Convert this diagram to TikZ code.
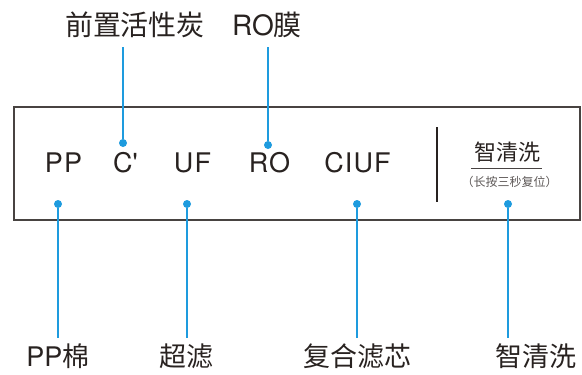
\documentclass[tikz,border=0pt]{standalone}
\usepackage{fontspec}
\setmainfont{TeX Gyre Heros}
\newfontfamily\cjk{Noto Sans CJK SC}
\usetikzlibrary{positioning}
\definecolor{lead}{RGB}{30,155,222}
\definecolor{ink}{RGB}{40,34,32}

\begin{document}
\begin{tikzpicture}
	[
	 x = 1pt, y = -1pt,
	 every node/.style = {text = ink,
	                      inner sep = 0pt},
	 key/.style  = {font = \fontsize{27}{27}\selectfont\addfontfeature{LetterSpace=4},
	                anchor = base},
	 tag/.style  = {font = \fontsize{27}{27}\selectfont},
	 dot/.style  = {circle, fill = lead, minimum size = 8pt},
	 wire/.style = {draw = lead, line width = 1.2pt}
	]
	\useasboundingbox (0,0) rectangle (582,375);

	\node (F) [draw = ink!85, line width = 1.3pt,
	           minimum width = 566pt, minimum height = 113pt] at (297,163.5) {};

	\node [key] (K1) at (63.5,172.5) {PP};
	\node [key] (K2) at (125.5,172.5) {C\textquotesingle};
	\node [key] (K3) at (192.5,172.5) {UF};
	\node [key] (K4) at (269.5,172.5) {RO};
	\node [key] (K5) at (357.5,172.5) {CIUF};

	\draw [ink, line width = 2pt] (437,127) -- (437,202);
	\node (W)  [font = \cjk\fontsize{22}{22}\selectfont] at (507,152) {智清洗};
	\draw [ink!85, line width = 1pt] (471,168) -- (542,168);
	\node (W2) [font = \cjk\fontsize{12}{12}\selectfont, text = ink!75] at (509.5,182) {（长按三秒复位）};

	\node [dot] (D1) at (58,204)  {};
	\node [dot] (D2) at (123,143) {};
	\node [dot] (D3) at (187,204) {};
	\node [dot] (D4) at (268,145) {};
	\node [dot] (D5) at (357,204) {};
	\node [dot] (D6) at (508,204) {};

	\node [tag, font = \cjk\fontsize{28}{28}\selectfont] (T2) at (135,25) {前置活性炭};
	\node [tag, font = \fontsize{28}{28}\selectfont]     (T4) at (267,25) {RO{\cjk 膜}};
	\node [tag] (T1) at (58,356)  {PP{\cjk 棉}};
	\node [tag] (T3) at (186.5,356) {\cjk 超滤};
	\node [tag] (T5) at (357,356) {\cjk 复合滤芯};
	\node [tag] (T6) at (536,356) {\cjk 智清洗};

	\draw [wire, shorten > = 9pt]   (D2) -- (D2 |- T2.south);
	\draw [wire, shorten > = 9pt]   (D4) -- (D4 |- T4.south);
	\draw [wire, shorten > = 5.5pt] (D1) -- (D1 |- T1.north);
	\draw [wire, shorten > = 5.5pt] (D3) -- (D3 |- T3.north);
	\draw [wire, shorten > = 5.5pt] (D5) -- (D5 |- T5.north);
	\draw [wire, shorten > = 5.5pt] (D6) -- (D6 |- T6.north);
\end{tikzpicture}
\end{document}
